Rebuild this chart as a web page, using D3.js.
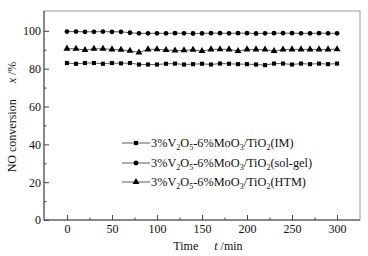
<!DOCTYPE html>
<html><head><meta charset="utf-8">
<script src="https://cdn.jsdelivr.net/npm/d3@7"></script>
<style>body{margin:0;background:#fff}svg{display:block}text{font-family:"Liberation Serif","Times New Roman",serif;fill:#111}</style>
</head><body><svg id="c" width="368" height="256"></svg>
<script>
const times = d3.range(0, 301, 10);
const solgel = [99.6,99.6,99.5,99.5,99.6,99.5,99.5,99.0,98.7,98.7,98.7,98.7,98.8,98.7,98.6,98.7,98.8,98.8,98.7,98.8,98.8,98.6,98.7,98.8,98.8,98.8,98.7,98.7,98.8,98.7,98.7];
const htm = [90.6,90.5,89.9,90.5,90.5,90.2,90.0,89.5,88.6,90.2,90.3,89.9,89.6,89.7,90.0,89.3,90.2,90.3,90.2,89.4,90.2,90.2,90.1,89.3,90.1,90.2,90.2,90.2,90.2,90.2,90.3];
const im = [83.0,82.6,83.0,83.0,82.6,83.0,82.8,83.0,82.2,82.2,82.2,82.6,82.7,82.2,82.4,82.6,82.2,82.7,82.6,82.4,82.4,82.2,81.9,82.7,82.7,82.2,82.7,82.4,82.7,82.4,82.7];
const xTicks = [0,50,100,150,200,250,300];
const yTicks = [0,20,40,60,80,100];
const seriesNames = ["IM","sol-gel","HTM"];

const svg = d3.select("#c");
const L=44,R=360,T=11,B=220;
const x = d3.scaleLinear().domain([-25.5,325.5]).range([L,R]);
const y = d3.scaleLinear().domain([0,110.5]).range([B,T]);

svg.append("rect").attr("x",L).attr("y",T).attr("width",R-L).attr("height",B-T)
  .attr("fill","none").attr("stroke","#999").attr("stroke-width",1);
svg.append("line").attr("x1",L).attr("x2",L).attr("y1",T).attr("y2",B).attr("stroke","#444");
svg.append("line").attr("x1",L).attr("x2",R).attr("y1",B).attr("y2",B).attr("stroke","#444");

const gx = svg.append("g").attr("transform",`translate(0,${B})`);
gx.call(d3.axisBottom(x).tickValues(xTicks).tickSizeInner(-5).tickSizeOuter(0).tickPadding(4))
  .call(g=>g.select(".domain").remove());
gx.selectAll(".tick line").attr("stroke","#444");
gx.selectAll("text").attr("font-size",12).attr("fill","#111");
const gx2 = svg.append("g").attr("transform",`translate(0,${B})`);
gx2.call(d3.axisBottom(x).tickValues([25,75,125,175,225,275]).tickSizeInner(-2.5).tickSizeOuter(0).tickFormat(""))
  .call(g=>g.select(".domain").remove());
gx2.selectAll(".tick line").attr("stroke","#444");

const gy = svg.append("g").attr("transform",`translate(${L},0)`);
gy.call(d3.axisLeft(y).tickValues(yTicks).tickSizeInner(-5).tickSizeOuter(0).tickPadding(3))
  .call(g=>g.select(".domain").remove());
gy.selectAll(".tick line").attr("stroke","#444");
gy.selectAll("text").attr("font-size",12).attr("fill","#111");
const gy2 = svg.append("g").attr("transform",`translate(${L},0)`);
gy2.call(d3.axisLeft(y).tickValues([10,30,50,70,90]).tickSizeInner(-2.5).tickSizeOuter(0).tickFormat(""))
  .call(g=>g.select(".domain").remove());
gy2.selectAll(".tick line").attr("stroke","#444");

const yt = svg.append("text").attr("transform","translate(16,117) rotate(-90)").attr("text-anchor","middle").attr("font-size",12);
yt.append("tspan").text("NO conversion");
yt.append("tspan").attr("dx",16).attr("font-style","italic").text("x");
yt.append("tspan").text(" /%");
const xt = svg.append("text").attr("x",208).attr("y",250).attr("text-anchor","middle").attr("font-size",12);
xt.append("tspan").text("Time");
xt.append("tspan").attr("dx",16).attr("font-style","italic").text("t");
xt.append("tspan").text(" /min");

const sym = {IM:d3.symbolSquare, "sol-gel":d3.symbolCircle, HTM:d3.symbolTriangle};
const symSize = {IM:17, "sol-gel":18, HTM:21};
const data = {IM:im, "sol-gel":solgel, HTM:htm};
const line = d3.line().x((d,i)=>x(times[i])).y(d=>y(d));
seriesNames.forEach(n=>{
  svg.append("path").attr("d",line(data[n])).attr("fill","none").attr("stroke","#333").attr("stroke-width",0.8);
  svg.append("g").selectAll("path").data(data[n]).join("path")
    .attr("transform",(d,i)=>`translate(${x(times[i])},${y(d)})`)
    .attr("d",d3.symbol().type(sym[n]).size(symSize[n])).attr("fill","#000");
});

const legY = [143,163,182];
seriesNames.forEach((n,i)=>{
  const g = svg.append("g").attr("transform",`translate(122,${legY[i]})`);
  g.append("line").attr("x1",0).attr("x2",28).attr("y1",0).attr("y2",0).attr("stroke","#333").attr("stroke-width",0.8);
  g.append("path").attr("transform","translate(14,0)").attr("d",d3.symbol().type(sym[n]).size(symSize[n])).attr("fill","#000");
  const t = g.append("text").attr("x",29).attr("y",4).attr("font-size",12.3);
  t.append("tspan").text("3%V");
  t.append("tspan").attr("font-size",8).attr("dy",3).text("2");
  t.append("tspan").attr("dy",-3).text("O");
  t.append("tspan").attr("font-size",8).attr("dy",3).text("5");
  t.append("tspan").attr("dy",-3).text("-6%MoO");
  t.append("tspan").attr("font-size",8).attr("dy",3).text("3");
  t.append("tspan").attr("dy",-3).text("/TiO");
  t.append("tspan").attr("font-size",8).attr("dy",3).text("2");
  t.append("tspan").attr("dy",-3).text("("+n+")");
});
</script></body></html>
